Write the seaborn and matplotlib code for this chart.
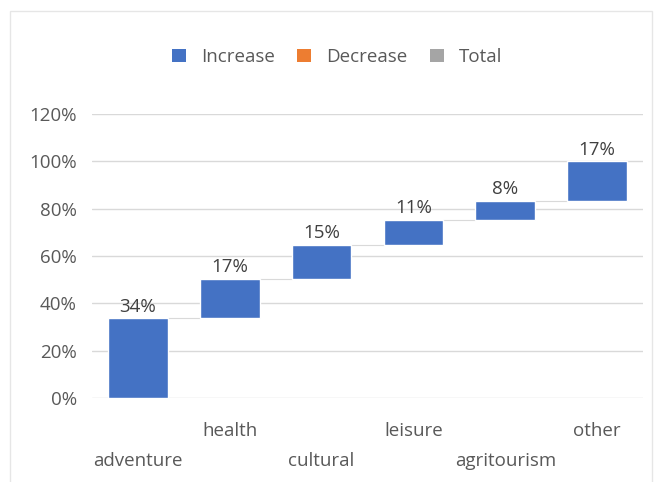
import matplotlib
matplotlib.use("Agg")
import matplotlib.pyplot as plt
from matplotlib.patches import Patch, Rectangle
from matplotlib.ticker import PercentFormatter
import numpy as np
import pandas as pd
import seaborn as sns

categories = ["adventure", "health", "cultural", "leisure", "agritourism", "other"]
shares = [0.336, 0.166, 0.146, 0.106, 0.080, 0.166]
y_ticks = [0.0, 0.2, 0.4, 0.6, 0.8, 1.0, 1.2]
legend_labels = ["Increase", "Decrease", "Total"]

BLUE = "#4472C4"
ORANGE = "#ED7D31"
GRAY = "#A5A5A5"
TEXT = "#595959"
GRID = "#D9D9D9"
FS = 13.5

df = pd.DataFrame({"category": categories, "share": shares})
df["base"] = df["share"].cumsum() - df["share"]
df["top"] = df["base"] + df["share"]

sns.set_theme(style="white")
plt.rcParams["font.family"] = ["Open Sans", "DejaVu Sans"]

fig = plt.figure(figsize=(6.56, 4.82), dpi=100)
ax = fig.add_axes([92 / 656, 1 - 398 / 482, (643 - 92) / 656, (398 - 114) / 482])

sns.barplot(data=df, x="category", y="share", bottom=df["base"], color=BLUE,
            width=0.65, saturation=1, ax=ax, zorder=3)

ax.set_ylim(0, 1.2)
ax.set_xlim(-0.5, len(categories) - 0.5)
ax.set_yticks(y_ticks)
ax.yaxis.set_major_formatter(PercentFormatter(1.0, decimals=0))
ax.grid(axis="y", color=GRID, linewidth=1, zorder=0)
for s in ax.spines.values():
    s.set_visible(False)
ax.tick_params(axis="y", length=0, pad=11, labelsize=FS, labelcolor=TEXT)
ax.tick_params(axis="x", length=0, labelbottom=False)
ax.set_xlabel("")
ax.set_ylabel("")

# connectors between consecutive bars
half = 0.65 / 2
for i in range(len(df) - 1):
    ax.plot([i + half, i + 1 - half], [df["top"][i], df["top"][i]],
            color=GRID, linewidth=0.8, zorder=2)

# value labels above each bar
for i, row in df.iterrows():
    ax.annotate(f"{row['share']:.0%}", (i, row["top"]), xytext=(0, 2),
                textcoords="offset points", ha="center", va="bottom",
                fontsize=FS, color="#404040")

# staggered category labels
for i, name in enumerate(categories):
    off = -33 if i % 2 else -63
    ax.annotate(name, (i, 0), xycoords=("data", "axes fraction"),
                xytext=(0, off * 72 / 100), textcoords="offset points",
                ha="center", va="center", fontsize=FS, color=TEXT)

handles = [Patch(facecolor=c, edgecolor="none") for c in (BLUE, ORANGE, GRAY)]
fig.legend(handles, legend_labels, loc="center", bbox_to_anchor=(337 / 656, 1 - 57 / 482),
           ncol=3, frameon=False, fontsize=FS, labelcolor=TEXT,
           handlelength=0.75, handleheight=0.75, handletextpad=0.8, columnspacing=1.2)

# chart area border
fig.add_artist(Rectangle((10 / 656, -0.01), (652 - 10) / 656, 1 - 11 / 482 + 0.01,
                         transform=fig.transFigure, fill=False,
                         edgecolor="#E6E6E6", linewidth=1))

fig.savefig("out.png", dpi=100)
